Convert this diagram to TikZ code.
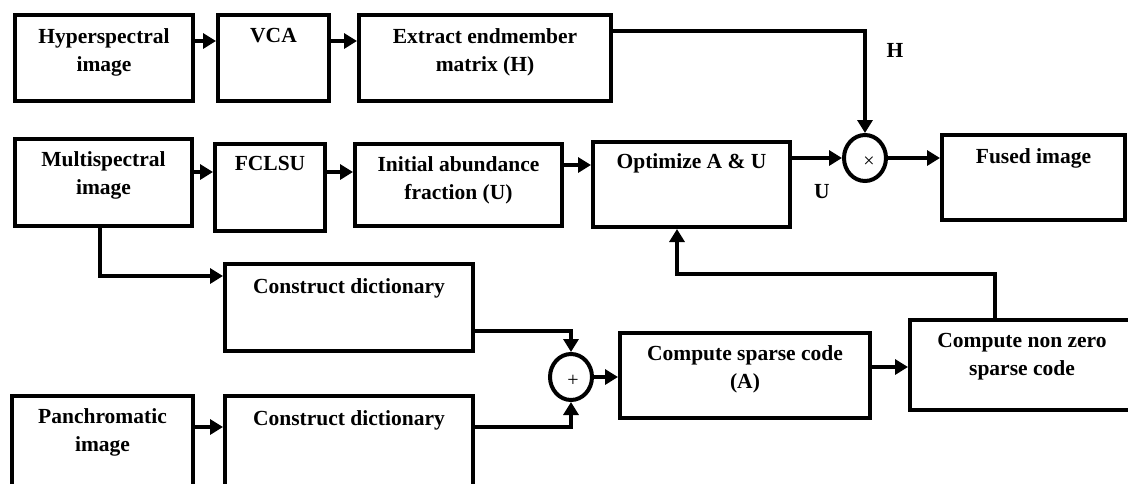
\documentclass[tikz,border=0pt]{standalone}
\usepackage{fontspec}
\setmainfont{Liberation Serif}
\usetikzlibrary{arrows.meta,shapes.geometric}
\begin{document}
\begin{tikzpicture}[x=1pt,y=-1pt,
  box/.style={draw,line width=4pt,inner sep=0pt},
  txt/.style={anchor=north,inner sep=0pt,align=center,font=\fontsize{21.5}{28}\selectfont\bfseries},
  lab/.style={inner sep=0pt,font=\fontsize{21.5}{26}\selectfont\bfseries},
  arr/.style={line width=4pt,-{Triangle[length=13pt,width=15pt]}},
  sumc/.style={draw,line width=4pt,ellipse,inner sep=0pt,minimum width=42pt,minimum height=46pt},
  sym/.style={inner sep=0pt,font=\fontsize{20}{20}\selectfont}]

\useasboundingbox (0,0) rectangle (1128,483);
\clip (0,0) rectangle (1128,483);

% boxes
\node[box,minimum width=178pt,minimum height=86pt] (hs) at (104,58) {};
\node[box,minimum width=111pt,minimum height=86pt] (vca) at (273.5,58) {};
\node[box,minimum width=252pt,minimum height=86pt] (ext) at (485,58) {};
\node[box,minimum width=177pt,minimum height=87pt] (ms) at (103.5,182.5) {};
\node[box,minimum width=110pt,minimum height=87pt] (fcl) at (270,187.5) {};
\node[box,minimum width=207pt,minimum height=82pt] (ini) at (458.5,185) {};
\node[box,minimum width=197pt,minimum height=85pt] (opt) at (691.5,184.5) {};
\node[box,minimum width=183pt,minimum height=85pt] (fused) at (1033.5,177.5) {};
\node[box,minimum width=248pt,minimum height=87pt] (cd1) at (349,307.5) {};
\node[box,minimum width=248pt,minimum height=92pt] (cd2) at (349,442) {};
\node[box,minimum width=181pt,minimum height=92pt] (pan) at (102.5,442) {};
\node[box,minimum width=250pt,minimum height=85pt] (csc) at (745,375.5) {};
\node[box,minimum width=224pt,minimum height=90pt] (cnz) at (1022,365) {};

% texts
\node[txt] (hsT) at ([yshift=-15pt]hs.north) {Hyperspectral\\image};
\node[txt] (vcaT) at ([yshift=-15pt]vca.north) {VCA};
\node[txt] (extT) at ([yshift=-15pt]ext.north) {Extract endmember\\matrix (H)};
\node[txt] (msT) at ([yshift=-14pt]ms.north) {Multispectral\\image};
\node[txt] (fclT) at ([yshift=-14pt]fcl.north) {FCLSU};
\node[txt] (iniT) at ([yshift=-14pt]ini.north) {Initial abundance\\fraction (U)};
\node[txt] (optT) at ([yshift=-13pt]opt.north) {Optimize A \& U};
\node[txt] (fusedT) at ([yshift=-15pt]fused.north) {Fused image};
\node[txt] (cd1T) at ([yshift=-16pt]cd1.north) {Construct dictionary};
\node[txt] (cd2T) at ([yshift=-16pt]cd2.north) {Construct dictionary};
\node[txt] (panT) at ([yshift=-14pt]pan.north) {Panchromatic\\image};
\node[txt] (cscT) at ([yshift=-14pt]csc.north) {Compute sparse code\\(A)};
\node[txt] (cnzT) at ([yshift=-15pt]cnz.north) {Compute non zero\\sparse code};

% operators
\node[sumc] (times) at (865,158) {};
\node[sumc] (plus) at (571,377) {};
\node[sym] (timesS) at (869,162) {×};
\node[sym] (plusS) at (573,381) {+};

% labels
\node[lab] (hl) at (895,50) {H};
\node[lab] (ul) at (822,192) {U};

% connectors
\coordinate (r1) at (0,41);
\draw[arr] (hs.east |- r1) -- (vca.west |- r1);
\draw[arr] (vca.east |- r1) -- (ext.west |- r1);
\coordinate (hy) at (0,31);
\draw[arr] (ext.east |- hy) -| (times.north);
\coordinate (r2) at (0,172);
\draw[arr] (ms.east |- r2) -- (fcl.west |- r2);
\draw[arr] (fcl.east |- r2) -- (ini.west |- r2);
\coordinate (r2b) at (0,165);
\draw[arr] (ini.east |- r2b) -- (opt.west |- r2b);
\draw[arr] (opt.east |- times) -- (times.west);
\draw[arr] (times.east) -- (fused.west |- times);
\coordinate (msx) at (100,276);
\draw[arr] (ms.south -| msx) |- (cd1.west |- msx);
\coordinate (d1y) at (0,331);
\draw[arr] (cd1.east |- d1y) -| (plus.north);
\coordinate (d2y) at (0,427);
\draw[arr] (cd2.east |- d2y) -| (plus.south);
\draw[arr] (pan.east |- d2y) -- (cd2.west |- d2y);
\draw[arr] (plus.east) -- (csc.west |- plus);
\coordinate (r4) at (0,367);
\draw[arr] (csc.east |- r4) -- (cnz.west |- r4);
\coordinate (fb) at (995,274);
\coordinate (fbx) at (677,274);
\draw[arr] (cnz.north -| fb) |- (fbx) -- (opt.south -| fbx);
\end{tikzpicture}
\end{document}
